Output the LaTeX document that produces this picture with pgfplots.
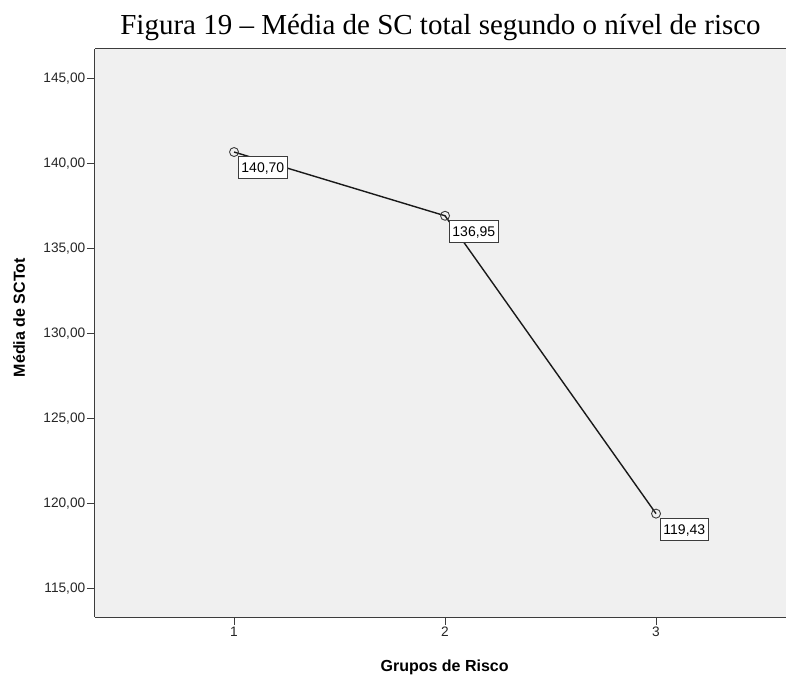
\documentclass[border=0pt]{standalone}
\usepackage{pgfplots}
\pgfplotsset{compat=1.18}
\usepackage{fontspec}
\setmainfont{Liberation Serif}
\newfontfamily\arial{Liberation Sans}
\definecolor{plotbg}{HTML}{F0F0F0}
\definecolor{axisgray}{HTML}{3C3C3C}

\begin{document}
\begin{tikzpicture}
\begin{axis}[
    name=ax,
    scale only axis,
    width=691pt, height=568pt,
    xmin=0.341, xmax=3.616,
    ymin=113.35, ymax=146.76,
    axis x line=box, axis y line=left,
    axis line style={-, axisgray, line width=1pt},
    axis background/.style={fill=plotbg},
    xtick={1,2,3},
    ytick={115,120,...,145},
    xtick pos=bottom, ytick pos=left,
    tick align=outside,
    major tick length=8pt,
    tick style={axisgray, line width=1pt},
    /pgf/number format/assume math mode=true,
    ticklabel style={font=\arial\fontsize{13.7}{14}\selectfont, text=black!85},
    yticklabel style={inner sep=1.5pt,
        /pgf/number format/.cd, fixed, fixed zerofill, precision=2, use comma, /tikz/.cd},
    xticklabel style={inner sep=2pt},
    title={Figura 19 -- Média de SC total segundo o nível de risco},
    every axis title/.style={at={(rel axis cs:0.5,1)}, anchor=base, yshift=14pt, inner sep=0pt,
        font=\fontsize{29}{31}\selectfont},
    xlabel={Grupos de Risco},
    ylabel={Média de SCTot},
    every axis x label/.style={at={(rel axis cs:0.506,-0.0951)}, anchor=base,
        font=\arial\bfseries\fontsize{16}{18}\selectfont},
    every axis y label/.style={at={(rel axis cs:-0.1013,0.527)}, anchor=base, rotate=90,
        font=\arial\bfseries\fontsize{16}{18}\selectfont},
]
\addplot[color=black!90, line width=1.4pt,
    mark=o, mark size=4.5pt, mark options={line width=0.9pt, color=axisgray},
    nodes near coords, point meta=explicit symbolic,
    every node near coord/.append style={anchor=north west, draw=axisgray, fill=white,
        line width=0.8pt, font=\arial\fontsize{14}{14}\selectfont, text=black,
        inner xsep=3pt, inner ysep=6pt, text height=10pt, text depth=0pt,
        xshift=4pt, yshift=-4pt}]
    table[x=x, y=y, meta=lab] {
x y lab
1 140.70 140,70
2 136.95 136,95
3 119.43 119,43
};
\end{axis}
\pgfresetboundingbox
\path[use as bounding box] ([xshift=-95pt,yshift=-58pt]ax.south west) rectangle ([yshift=49pt]ax.north east);
\end{tikzpicture}
\end{document}
